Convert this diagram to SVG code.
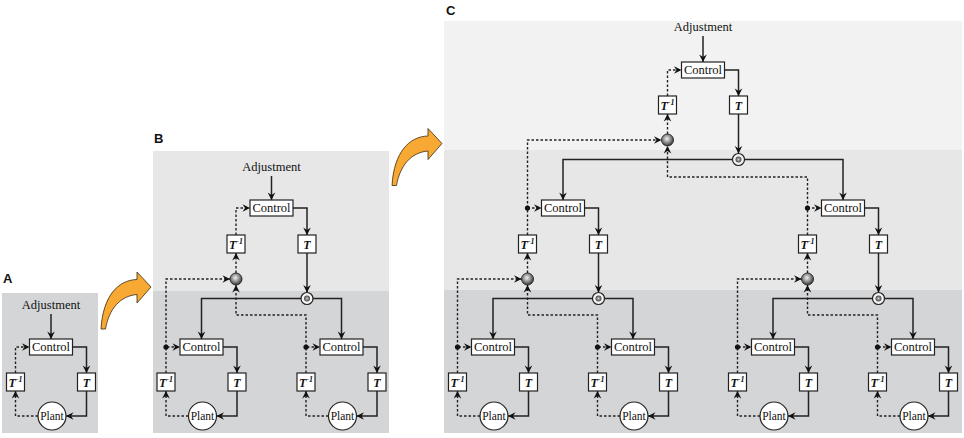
<svg xmlns="http://www.w3.org/2000/svg" width="964" height="438" viewBox="0 0 964 438">
<style>
.bg0{fill:#f2f2f2}.bg1{fill:#e7e7e8}.bg2{fill:#d4d5d7}
.lbl{font-family:"Liberation Sans",Arial,sans-serif;font-weight:bold;font-size:13px;fill:#111}
.adj{font-family:"Liberation Serif","Times New Roman",serif;font-size:12.5px;fill:#111;text-anchor:middle}
.ctl rect,.tb rect{fill:#fff;stroke:#222;stroke-width:1.2}
.ctl text{font-family:"Liberation Serif","Times New Roman",serif;font-size:12.5px;fill:#111;text-anchor:middle}
.tb text{font-family:"Liberation Serif","Times New Roman",serif;font-size:12px;font-weight:bold;font-style:italic;fill:#111;text-anchor:middle}
.tb tspan{font-size:8px}
.pl circle{fill:#fff;stroke:#222;stroke-width:1.2}
.pl text{font-family:"Liberation Serif","Times New Roman",serif;font-size:11.5px;fill:#111;text-anchor:middle}
.sum circle{fill:url(#gs);stroke:#222;stroke-width:0.9}
.bc circle.o{fill:#f4f4f4;stroke:#222;stroke-width:1.2}
.bc circle.i{fill:url(#gb)}
.s{fill:none;stroke:#222;stroke-width:1.5;marker-end:url(#ah)}
.d{fill:none;stroke:#222;stroke-width:1.4;stroke-dasharray:2.5 2;marker-end:url(#ah)}
.dot{fill:#111}
.orange{fill:#f7a934;stroke:#3a2a10;stroke-width:0.8}
</style>
<defs>
<marker id="ah" viewBox="-9 -5 10 10" refX="0" refY="0" markerWidth="10" markerHeight="10" markerUnits="userSpaceOnUse" orient="auto">
<path d="M0,0 L-7.5,-3.8 L-5,0 L-7.5,3.8 Z" fill="#111"/>
</marker>
<radialGradient id="gs" cx="45%" cy="40%" r="60%">
<stop offset="0" stop-color="#f2f2f2"/><stop offset="0.55" stop-color="#8c8c8c"/><stop offset="1" stop-color="#333"/>
</radialGradient>
<radialGradient id="gb" cx="50%" cy="50%" r="50%">
<stop offset="0" stop-color="#c8c8c8"/><stop offset="1" stop-color="#444"/>
</radialGradient>
<path id="oarrow" d="M0,0 L-14,-15 L-14,-7.5 C-33,-7 -48,9 -50,42 L-45.5,42 C-42,22 -31,9 -14,7.5 L-14,16 Z"/>
</defs>

<g id="backgrounds">
<rect class="bg2" x="2" y="293" width="96" height="140"/>
<rect class="bg1" x="153" y="151" width="236" height="140"/>
<rect class="bg2" x="153" y="291" width="236" height="142"/>
<rect class="bg0" x="444" y="21" width="518" height="129"/>
<rect class="bg1" x="444" y="150" width="518" height="140"/>
<rect class="bg2" x="444" y="290" width="518" height="143"/>
</g>

<g id="panel-labels">
<text class="lbl" x="3" y="283">A</text>
<text class="lbl" x="154" y="143">B</text>
<text class="lbl" x="446" y="15">C</text>
</g>

<g id="transition-arrows">
<use href="#oarrow" class="orange" transform="translate(151,287)"/>
<use href="#oarrow" class="orange" transform="translate(442,143.5)"/>
</g>

<g id="connectors">
<!-- Panel A -->
<path class="s" d="M51,314 V339"/>
<path class="s" d="M72.5,347 H86.5 V373"/>
<path class="s" d="M86.5,391 V416 H66"/>
<path class="d" d="M38,416 H15.5 V391"/>
<path class="d" d="M15.5,373 V347 H29.5"/>

<!-- Panel B top -->
<path class="s" d="M271.5,176 V200"/>
<path class="s" d="M293,208 H307 V235"/>
<path class="s" d="M307,253 V292.5"/>
<path class="s" d="M307,298.5 H201.5 V339"/>
<path class="s" d="M307,298.5 H341.5 V339"/>
<path class="d" d="M236,235 V208 H250"/>
<path class="d" d="M236,273 V253"/>
<path class="d" d="M166,347 V279 H230"/>
<path class="d" d="M306,347 V315 H236 V285"/>
<!-- B left leaf -->
<path class="s" d="M223,347 H237 V373"/>
<path class="s" d="M237,391 V416 H216.5"/>
<path class="d" d="M188.5,416 H166 V391"/>
<path class="d" d="M166,373 V347 H180"/>
<circle class="dot" cx="166" cy="347" r="2.6"/>
<!-- B right leaf -->
<path class="s" d="M363,347 H377 V373"/>
<path class="s" d="M377,391 V416 H356.5"/>
<path class="d" d="M328.5,416 H306 V391"/>
<path class="d" d="M306,373 V347 H320"/>
<circle class="dot" cx="306" cy="347" r="2.6"/>

<!-- Panel C top -->
<path class="s" d="M703,36 V62"/>
<path class="s" d="M724.5,70 H738.5 V96"/>
<path class="s" d="M738.5,114 V153.5"/>
<path class="s" d="M738.5,159.5 H563 V200"/>
<path class="s" d="M738.5,159.5 H843 V200"/>
<path class="d" d="M667.5,96 V70 H681.5"/>
<path class="d" d="M667.5,134 V114"/>
<path class="d" d="M527.5,208 V140 H661.5"/>
<path class="d" d="M807.5,208 V177 H667.5 V146"/>

<!-- C middle left -->
<path class="s" d="M584.5,208 H598.5 V235"/>
<path class="s" d="M598.5,253 V292.5"/>
<path class="s" d="M598.5,298.5 H493 V339"/>
<path class="s" d="M598.5,298.5 H633 V339"/>
<path class="d" d="M527.5,235 V208 H541.5"/>
<path class="d" d="M527.5,273 V253"/>
<path class="d" d="M457.5,347 V279 H521.5"/>
<path class="d" d="M597.5,347 V315 H527.5 V285"/>
<circle class="dot" cx="527.5" cy="208" r="2.6"/>

<!-- C middle right -->
<path class="s" d="M864.5,208 H878.5 V235"/>
<path class="s" d="M878.5,253 V292.5"/>
<path class="s" d="M878.5,298.5 H773 V339"/>
<path class="s" d="M878.5,298.5 H913 V339"/>
<path class="d" d="M807.5,235 V208 H821.5"/>
<path class="d" d="M807.5,273 V253"/>
<path class="d" d="M737.5,347 V279 H801.5"/>
<path class="d" d="M877.5,347 V315 H807.5 V285"/>
<circle class="dot" cx="807.5" cy="208" r="2.6"/>

<!-- C leaves -->
<path class="s" d="M514.5,347 H528.5 V373"/>
<path class="s" d="M528.5,391 V416 H508"/>
<path class="d" d="M480,416 H457.5 V391"/>
<path class="d" d="M457.5,373 V347 H471.5"/>
<circle class="dot" cx="457.5" cy="347" r="2.6"/>

<path class="s" d="M654.5,347 H668.5 V373"/>
<path class="s" d="M668.5,391 V416 H648"/>
<path class="d" d="M620,416 H597.5 V391"/>
<path class="d" d="M597.5,373 V347 H611.5"/>
<circle class="dot" cx="597.5" cy="347" r="2.6"/>

<path class="s" d="M794.5,347 H808.5 V373"/>
<path class="s" d="M808.5,391 V416 H788"/>
<path class="d" d="M760,416 H737.5 V391"/>
<path class="d" d="M737.5,373 V347 H751.5"/>
<circle class="dot" cx="737.5" cy="347" r="2.6"/>

<path class="s" d="M934.5,347 H948.5 V373"/>
<path class="s" d="M948.5,391 V416 H928"/>
<path class="d" d="M900,416 H877.5 V391"/>
<path class="d" d="M877.5,373 V347 H891.5"/>
<circle class="dot" cx="877.5" cy="347" r="2.6"/>
</g>

<!-- ===== Panel A nodes ===== -->
<g id="a-adjustment"><text class="adj" x="51" y="309">Adjustment</text></g>
<g id="a-control" class="ctl"><rect x="29.5" y="339" width="43" height="16"/><text x="51" y="351.3">Control</text></g>
<g id="a-t" class="tb"><rect x="77.5" y="373" width="18" height="18"/><text x="86.5" y="386.5">T</text></g>
<g id="a-tinv" class="tb"><rect x="6.5" y="373" width="18" height="18"/><text x="15.5" y="386.5">T<tspan dy="-4.5">-1</tspan></text></g>
<g id="a-plant" class="pl"><circle cx="52" cy="416" r="14"/><text x="52" y="420">Plant</text></g>

<!-- ===== Panel B nodes ===== -->
<g id="b-adjustment"><text class="adj" x="271.5" y="171">Adjustment</text></g>
<g id="b-control" class="ctl"><rect x="250" y="200" width="43" height="16"/><text x="271.5" y="212.3">Control</text></g>
<g id="b-t" class="tb"><rect x="298" y="235" width="18" height="18"/><text x="307" y="248.5">T</text></g>
<g id="b-tinv" class="tb"><rect x="227" y="235" width="18" height="18"/><text x="236" y="248.5">T<tspan dy="-4.5">-1</tspan></text></g>
<g id="b-sum" class="sum"><circle cx="236" cy="279" r="6"/></g>
<g id="b-split" class="bc"><circle class="o" cx="307" cy="298.5" r="6"/><circle class="i" cx="307" cy="298.5" r="3"/></g>

<g id="b-l-control" class="ctl"><rect x="180" y="339" width="43" height="16"/><text x="201.5" y="351.3">Control</text></g>
<g id="b-l-t" class="tb"><rect x="228" y="373" width="18" height="18"/><text x="237" y="386.5">T</text></g>
<g id="b-l-tinv" class="tb"><rect x="157" y="373" width="18" height="18"/><text x="166" y="386.5">T<tspan dy="-4.5">-1</tspan></text></g>
<g id="b-l-plant" class="pl"><circle cx="202.5" cy="416" r="14"/><text x="202.5" y="420">Plant</text></g>

<g id="b-r-control" class="ctl"><rect x="320" y="339" width="43" height="16"/><text x="341.5" y="351.3">Control</text></g>
<g id="b-r-t" class="tb"><rect x="368" y="373" width="18" height="18"/><text x="377" y="386.5">T</text></g>
<g id="b-r-tinv" class="tb"><rect x="297" y="373" width="18" height="18"/><text x="306" y="386.5">T<tspan dy="-4.5">-1</tspan></text></g>
<g id="b-r-plant" class="pl"><circle cx="342.5" cy="416" r="14"/><text x="342.5" y="420">Plant</text></g>

<!-- ===== Panel C nodes ===== -->
<g id="c-adjustment"><text class="adj" x="703" y="31">Adjustment</text></g>
<g id="c-control" class="ctl"><rect x="681.5" y="62" width="43" height="16"/><text x="703" y="74.3">Control</text></g>
<g id="c-t" class="tb"><rect x="729.5" y="96" width="18" height="18"/><text x="738.5" y="109.5">T</text></g>
<g id="c-tinv" class="tb"><rect x="658.5" y="96" width="18" height="18"/><text x="667.5" y="109.5">T<tspan dy="-4.5">-1</tspan></text></g>
<g id="c-sum" class="sum"><circle cx="667.5" cy="140" r="6"/></g>
<g id="c-split" class="bc"><circle class="o" cx="738.5" cy="159.5" r="6"/><circle class="i" cx="738.5" cy="159.5" r="3"/></g>

<g id="c-l-control" class="ctl"><rect x="541.5" y="200" width="43" height="16"/><text x="563" y="212.3">Control</text></g>
<g id="c-l-t" class="tb"><rect x="589.5" y="235" width="18" height="18"/><text x="598.5" y="248.5">T</text></g>
<g id="c-l-tinv" class="tb"><rect x="518.5" y="235" width="18" height="18"/><text x="527.5" y="248.5">T<tspan dy="-4.5">-1</tspan></text></g>
<g id="c-l-sum" class="sum"><circle cx="527.5" cy="279" r="6"/></g>
<g id="c-l-split" class="bc"><circle class="o" cx="598.5" cy="298.5" r="6"/><circle class="i" cx="598.5" cy="298.5" r="3"/></g>

<g id="c-r-control" class="ctl"><rect x="821.5" y="200" width="43" height="16"/><text x="843" y="212.3">Control</text></g>
<g id="c-r-t" class="tb"><rect x="869.5" y="235" width="18" height="18"/><text x="878.5" y="248.5">T</text></g>
<g id="c-r-tinv" class="tb"><rect x="798.5" y="235" width="18" height="18"/><text x="807.5" y="248.5">T<tspan dy="-4.5">-1</tspan></text></g>
<g id="c-r-sum" class="sum"><circle cx="807.5" cy="279" r="6"/></g>
<g id="c-r-split" class="bc"><circle class="o" cx="878.5" cy="298.5" r="6"/><circle class="i" cx="878.5" cy="298.5" r="3"/></g>

<g id="c-ll-control" class="ctl"><rect x="471.5" y="339" width="43" height="16"/><text x="493" y="351.3">Control</text></g>
<g id="c-ll-t" class="tb"><rect x="519.5" y="373" width="18" height="18"/><text x="528.5" y="386.5">T</text></g>
<g id="c-ll-tinv" class="tb"><rect x="448.5" y="373" width="18" height="18"/><text x="457.5" y="386.5">T<tspan dy="-4.5">-1</tspan></text></g>
<g id="c-ll-plant" class="pl"><circle cx="494" cy="416" r="14"/><text x="494" y="420">Plant</text></g>

<g id="c-lr-control" class="ctl"><rect x="611.5" y="339" width="43" height="16"/><text x="633" y="351.3">Control</text></g>
<g id="c-lr-t" class="tb"><rect x="659.5" y="373" width="18" height="18"/><text x="668.5" y="386.5">T</text></g>
<g id="c-lr-tinv" class="tb"><rect x="588.5" y="373" width="18" height="18"/><text x="597.5" y="386.5">T<tspan dy="-4.5">-1</tspan></text></g>
<g id="c-lr-plant" class="pl"><circle cx="634" cy="416" r="14"/><text x="634" y="420">Plant</text></g>

<g id="c-rl-control" class="ctl"><rect x="751.5" y="339" width="43" height="16"/><text x="773" y="351.3">Control</text></g>
<g id="c-rl-t" class="tb"><rect x="799.5" y="373" width="18" height="18"/><text x="808.5" y="386.5">T</text></g>
<g id="c-rl-tinv" class="tb"><rect x="728.5" y="373" width="18" height="18"/><text x="737.5" y="386.5">T<tspan dy="-4.5">-1</tspan></text></g>
<g id="c-rl-plant" class="pl"><circle cx="774" cy="416" r="14"/><text x="774" y="420">Plant</text></g>

<g id="c-rr-control" class="ctl"><rect x="891.5" y="339" width="43" height="16"/><text x="913" y="351.3">Control</text></g>
<g id="c-rr-t" class="tb"><rect x="939.5" y="373" width="18" height="18"/><text x="948.5" y="386.5">T</text></g>
<g id="c-rr-tinv" class="tb"><rect x="868.5" y="373" width="18" height="18"/><text x="877.5" y="386.5">T<tspan dy="-4.5">-1</tspan></text></g>
<g id="c-rr-plant" class="pl"><circle cx="914" cy="416" r="14"/><text x="914" y="420">Plant</text></g>
</svg>
